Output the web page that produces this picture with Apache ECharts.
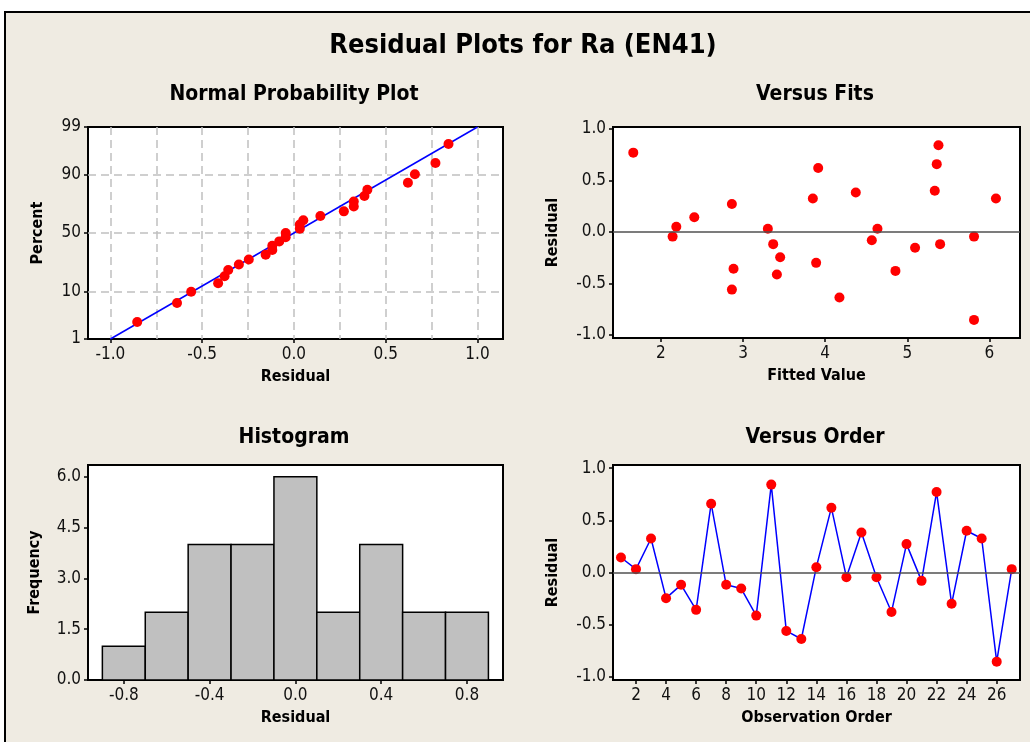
<!DOCTYPE html>
<html>
<head>
<meta charset="utf-8">
<script src="https://cdn.jsdelivr.net/npm/echarts@6/dist/echarts.min.js"></script>
<style>
  html, body { margin: 0; padding: 0; background: #fff; }
  #main { width: 1030px; height: 742px; }
</style>
</head>
<body>
<div id="main"></div>
<script>
const FONT = '"DejaVu Sans Condensed", "DejaVu Sans", sans-serif';

// residuals in observation order (1..27)
const residuals = [0.144, 0.032, 0.326, -0.246, -0.118, -0.358, 0.659, -0.118, -0.154, -0.413,
  0.842, -0.56, -0.637, 0.051, 0.621, -0.045, 0.384, -0.045, -0.378, 0.272,
  -0.08, 0.771, -0.30, 0.40, 0.326, -0.854, 0.032];
// fitted value for each observation
const fittedValues = [2.406, 3.302, 3.850, 3.452, 3.367, 2.884, 5.359, 5.40, 5.095, 3.412,
  5.38, 2.864, 4.174, 2.187, 3.915, 2.142, 4.373, 5.813, 4.856, 2.864,
  4.568, 1.663, 3.890, 5.335, 6.08, 5.813, 4.637];
// normal plot percent for sorted residuals
const probPercent = [2.55, 6.20, 9.85, 13.50, 17.15, 20.80, 24.45, 28.10, 31.75, 35.40,
  39.05, 42.70, 46.35, 50.0, 53.65, 57.30, 60.95, 64.60, 68.25, 71.90,
  75.55, 79.20, 82.85, 86.50, 90.15, 93.80, 97.45];
const fitLineResidual = [-1.0, 1.0];
const fitLinePercent = [1, 99];

// histogram
const histMids = [-0.8, -0.6, -0.4, -0.2, 0.0, 0.2, 0.4, 0.6, 0.8];
const histCounts = [1, 2, 4, 4, 6, 2, 4, 2, 2];
const histBinWidth = 0.2;

// tick labels
const percentTicks = [1, 10, 50, 90, 99];
const percentGrid = [10, 50, 90];
const probXTicks = [-1.0, -0.5, 0.0, 0.5, 1.0];
const probXGrid = [-1.0, -0.75, -0.5, -0.25, 0.0, 0.25, 0.5, 0.75, 1.0];
const residTicks = [-1.0, -0.5, 0.0, 0.5, 1.0];
const fitTicks = [2, 3, 4, 5, 6];
const freqTicks = [0, 1.5, 3.0, 4.5, 6.0];
const histXTicks = [-0.8, -0.4, 0.0, 0.4, 0.8];
const orderTicks = [2, 4, 6, 8, 10, 12, 14, 16, 18, 20, 22, 24, 26];

// inverse standard normal (probability scale)
function normInv(p) {
  const a = [-3.969683028665376e+01, 2.209460984245205e+02, -2.759285104469687e+02, 1.383577518672690e+02, -3.066479806614716e+01, 2.506628277459239e+00];
  const b = [-5.447609879822406e+01, 1.615858368580409e+02, -1.556989798598866e+02, 6.680131188771972e+01, -1.328068155288585e+01];
  const c = [-7.784894002430293e-03, -3.223964580411365e-01, -2.400758277161838e+00, -2.549732539343734e+00, 4.374664141464968e+00, 2.938163982698783e+00];
  const d = [7.784695709041462e-03, 3.224671290700398e-01, 2.445134137142996e+00, 3.754408661907416e+00];
  const pl = 0.02425;
  let q, r;
  if (p < pl) {
    q = Math.sqrt(-2 * Math.log(p));
    return (((((c[0]*q+c[1])*q+c[2])*q+c[3])*q+c[4])*q+c[5]) / ((((d[0]*q+d[1])*q+d[2])*q+d[3])*q+1);
  }
  if (p <= 1 - pl) {
    q = p - 0.5; r = q * q;
    return (((((a[0]*r+a[1])*r+a[2])*r+a[3])*r+a[4])*r+a[5])*q / (((((b[0]*r+b[1])*r+b[2])*r+b[3])*r+b[4])*r+1);
  }
  q = Math.sqrt(-2 * Math.log(1 - p));
  return -(((((c[0]*q+c[1])*q+c[2])*q+c[3])*q+c[4])*q+c[5]) / ((((d[0]*q+d[1])*q+d[2])*q+d[3])*q+1);
}

const zTicks = percentTicks.map(p => normInv(p / 100));
const zGrid = percentGrid.map(p => normInv(p / 100));
const sortedResid = residuals.slice().sort((x, y) => x - y);
const probData = sortedResid.map((v, i) => [v, normInv(probPercent[i] / 100)]);
const fitLineData = fitLineResidual.map((v, i) => [v, normInv(fitLinePercent[i] / 100)]);
const fitsData = fittedValues.map((f, i) => [f, residuals[i]]);
const orderData = residuals.map((v, i) => [i + 1, v]);
const histData = histMids.map((m, i) => [m, histCounts[i]]);

const labelStyle = { fontFamily: FONT, fontSize: 17, color: '#111' };
const nameStyle = { fontFamily: FONT, fontSize: 16, fontWeight: 'bold', color: '#000' };

function axis(gridIndex, min, max, ticks, fmt, name, nameGap) {
  return {
    type: 'value', gridIndex, min, max,
    name, nameLocation: 'middle', nameGap, nameTextStyle: nameStyle,
    axisLine: { show: false, onZero: false },
    axisTick: { show: true, inside: false, length: 4, customValues: ticks, lineStyle: { color: '#000', width: 1.5 } },
    axisLabel: { show: true, margin: 7, customValues: ticks, formatter: fmt, ...labelStyle },
    splitLine: { show: false }
  };
}
const fmt1 = v => v.toFixed(1);
const fmtInt = v => String(Math.round(v));
const fmtPct = v => {
  const i = zTicks.findIndex(z => Math.abs(z - v) < 1e-6);
  return i >= 0 ? String(percentTicks[i]) : '';
};

const dashGrid = { show: true, lineStyle: { color: '#c0c0c0', width: 1.5, type: [8, 5] } };

const xAxes = [
  axis(0, -1.122, 1.139, probXTicks, fmt1, 'Residual', 30),
  {
    type: 'value', gridIndex: 0, min: -1.122, max: 1.139, position: 'top',
    axisLine: { show: false, onZero: false }, axisLabel: { show: false },
    axisTick: { show: false, customValues: probXGrid },
    splitLine: dashGrid
  },
  axis(1, 1.416, 6.373, fitTicks, fmtInt, 'Fitted Value', 30),
  axis(2, -0.967, 0.968, histXTicks, fmt1, 'Residual', 30),
  axis(3, 0.47, 27.55, orderTicks, fmtInt, 'Observation Order', 30)
];
const yAxes = [
  axis(0, normInv(0.01), normInv(0.99), zTicks, fmtPct, 'Percent', 42),
  axis(1, -1.03, 1.02, residTicks, fmt1, 'Residual', 52),
  axis(2, 0, 6.35, freqTicks, fmt1, 'Frequency', 45),
  axis(3, -1.03, 1.03, residTicks, fmt1, 'Residual', 52),
  {
    type: 'value', gridIndex: 0, min: normInv(0.01), max: normInv(0.99), position: 'right',
    axisLine: { show: false, onZero: false }, axisLabel: { show: false },
    axisTick: { show: false, customValues: zGrid },
    splitLine: dashGrid
  }
];

const gridStyle = { show: true, backgroundColor: '#fff', borderColor: '#000', borderWidth: 2 };
const zeroLine = {
  silent: true, symbol: 'none', label: { show: false },
  lineStyle: { color: '#505050', width: 1.5, type: 'solid' },
  data: [{ yAxis: 0 }]
};

const titleStyle = { fontFamily: FONT, fontWeight: 'bold', fontSize: 21, color: '#000' };

const option = {
  backgroundColor: '#fff',
  animation: false,
  graphic: [{
    type: 'rect', z: -10, silent: true,
    shape: { x: 5, y: 12, width: 1100, height: 800 },
    style: { fill: '#EFEBE2', stroke: '#000', lineWidth: 2 }
  }],
  title: [
    { text: 'Residual Plots for Ra (EN41)', left: 518, top: 27, textAlign: 'center',
      textStyle: { ...titleStyle, fontSize: 27 } },
    { text: 'Normal Probability Plot', left: 289, top: 79, textAlign: 'center', textStyle: titleStyle },
    { text: 'Versus Fits', left: 810, top: 79, textAlign: 'center', textStyle: titleStyle },
    { text: 'Histogram', left: 289, top: 422, textAlign: 'center', textStyle: titleStyle },
    { text: 'Versus Order', left: 810, top: 422, textAlign: 'center', textStyle: titleStyle }
  ],
  grid: [
    { left: 88, top: 127, width: 415, height: 212, ...gridStyle },
    { left: 613, top: 127, width: 407, height: 211, ...gridStyle },
    { left: 88, top: 465, width: 415, height: 215, ...gridStyle },
    { left: 613, top: 465, width: 407, height: 215, ...gridStyle }
  ],
  xAxis: xAxes,
  yAxis: yAxes,
  series: [
    {
      type: 'line', xAxisIndex: 0, yAxisIndex: 0, data: fitLineData,
      showSymbol: false, lineStyle: { color: '#0000FF', width: 1.5 }, z: 2
    },
    {
      type: 'scatter', xAxisIndex: 0, yAxisIndex: 0, data: probData,
      symbolSize: 10, itemStyle: { color: '#FF0000', opacity: 1 }, z: 3
    },
    {
      type: 'scatter', xAxisIndex: 2, yAxisIndex: 1, data: fitsData,
      symbolSize: 10, itemStyle: { color: '#FF0000', opacity: 1 }, z: 3,
      markLine: zeroLine
    },
    {
      type: 'custom', xAxisIndex: 3, yAxisIndex: 2, data: histData,
      encode: { x: 0, y: 1 },
      renderItem: function (params, api) {
        const mid = api.value(0), cnt = api.value(1);
        const p0 = api.coord([mid - histBinWidth / 2, cnt]);
        const p1 = api.coord([mid + histBinWidth / 2, 0]);
        return {
          type: 'rect',
          shape: { x: p0[0], y: p0[1], width: p1[0] - p0[0], height: p1[1] - p0[1] },
          style: { fill: '#C0C0C0', stroke: '#000', lineWidth: 1.5 }
        };
      }
    },
    {
      type: 'line', xAxisIndex: 4, yAxisIndex: 3, data: orderData,
      symbol: 'circle', symbolSize: 10, showAllSymbol: true,
      itemStyle: { color: '#FF0000', opacity: 1 },
      lineStyle: { color: '#0000FF', width: 1.5 },
      markLine: zeroLine
    }
  ]
};

const chart = echarts.init(document.getElementById('main'));
chart.setOption(option);
</script>
</body>
</html>
